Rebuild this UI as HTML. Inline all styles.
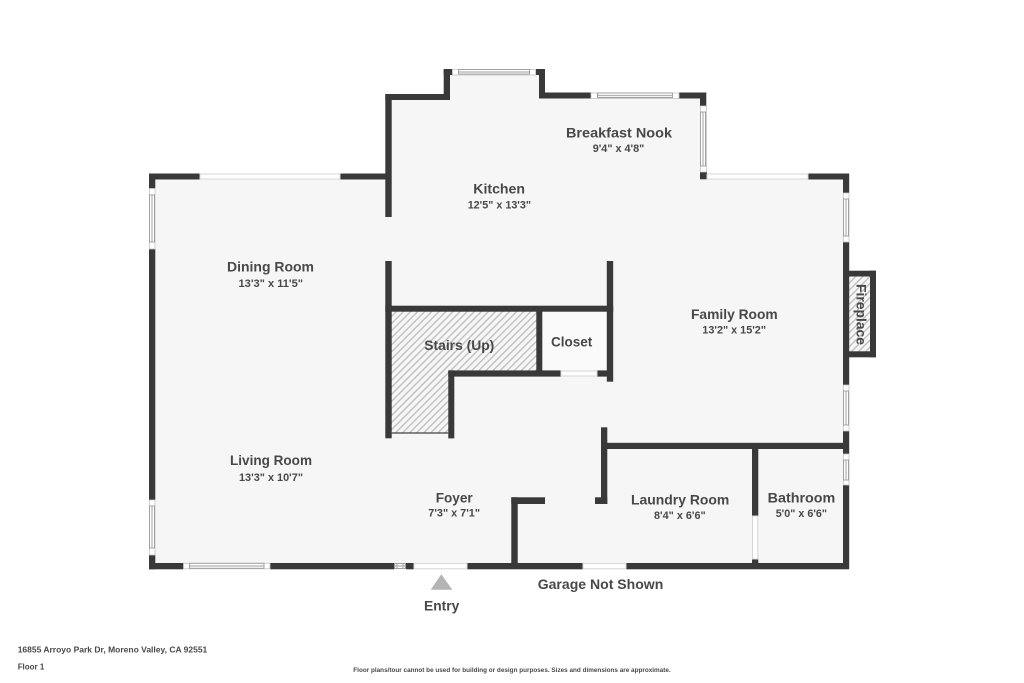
<!DOCTYPE html>
<html><head><meta charset="utf-8"><style>
html,body{margin:0;padding:0;background:#fff;width:1024px;height:683px;overflow:hidden}
svg{display:block}
text{font-family:"Liberation Sans",sans-serif;font-weight:700;fill:#484848}
.w{fill:#393939}
.d{fill:#fff;stroke:#d6d6d6;stroke-width:1}
.c{fill:#fff;stroke:#c4c4c4;stroke-width:.8}
.s{fill:#fff;stroke:#a0a0a0;stroke-width:1}
.l{stroke:#b0b0b0;stroke-width:1.2;fill:none}
</style></head><body>
<svg width="1024" height="683" viewBox="0 0 1024 683" xmlns="http://www.w3.org/2000/svg">
<defs>
<pattern id="h" width="5" height="5" patternUnits="userSpaceOnUse" patternTransform="rotate(45)">
<rect width="5" height="5" fill="#f6f6f6"/><rect width="1.3" height="5" fill="#bcbcbc"/>
</pattern>
</defs>
<polygon fill="#f6f6f6" points="152,176 388,176 388,97 447,97 447,72 542,72 542,95 703,95 703,176 846,176 846,566 152,566"/>
<rect x="542" y="311" width="65" height="60" fill="#fafafa"/>
<polygon fill="url(#h)" points="391,311 537,311 537,371 449,371 449,433 391,433"/>
<rect x="849" y="276" width="21" height="76" fill="url(#h)"/>

<!-- walls -->
<g class="w">
<rect x="149" y="173.5" width="51" height="6"/>
<rect x="340" y="173.5" width="51" height="6"/>
<rect x="149" y="173.5" width="6.3" height="15"/>
<rect x="149" y="249" width="6.3" height="251"/>
<rect x="149" y="555" width="6.3" height="14.3"/>
<rect x="149" y="563" width="34.5" height="6.3"/>
<rect x="270" y="563" width="124.5" height="6.3"/>
<rect x="406" y="563" width="8" height="6.3"/>
<rect x="467" y="563" width="116" height="6.3"/>
<rect x="626" y="563" width="223" height="6.3"/>

<rect x="385.3" y="94" width="6.4" height="123"/>
<rect x="385.3" y="94" width="64.7" height="6"/>
<rect x="443.7" y="69" width="6.3" height="31"/>
<rect x="443.7" y="69" width="8.5" height="6"/>
<rect x="536" y="69" width="9" height="6"/>
<rect x="539" y="69" width="6" height="29.5"/>
<rect x="539" y="92.5" width="52" height="6"/>
<rect x="679" y="92.5" width="27" height="6"/>
<rect x="700" y="92.5" width="6.3" height="13.5"/>
<rect x="700" y="172" width="7" height="7.3"/>

<rect x="808" y="173.5" width="41" height="6"/>
<rect x="843" y="173.5" width="6.2" height="19.5"/>
<rect x="843" y="242" width="6.2" height="143"/>
<rect x="843" y="431" width="6.2" height="23"/>
<rect x="843" y="485" width="6.2" height="84"/>

<!-- fireplace -->
<rect x="849" y="270.7" width="27" height="5.8"/>
<rect x="849" y="351.3" width="27" height="6"/>
<rect x="870" y="270.7" width="6" height="86.6"/>

<!-- centre -->
<rect x="385.3" y="261" width="6.4" height="177.3"/>
<rect x="606.8" y="261" width="6.4" height="120.7"/>
<rect x="385.3" y="305.7" width="227.9" height="6"/>
<rect x="536.3" y="311" width="6" height="60"/>
<rect x="448.3" y="370.4" width="112.7" height="6.2"/>
<rect x="597" y="370.4" width="16" height="6.2"/>
<rect x="448.3" y="370.4" width="6" height="68"/>
<rect x="391" y="432.3" width="58" height="1.4" fill="#555"/>

<!-- laundry/bath -->
<rect x="601" y="442.8" width="243" height="6.2"/>
<rect x="601" y="427.3" width="6.3" height="76.7"/>
<rect x="595" y="497.3" width="12.3" height="6.7"/>
<rect x="752" y="449" width="6.3" height="67"/>
<rect x="752" y="559" width="6.3" height="5"/>

<!-- foyer stub -->
<rect x="511.3" y="497.3" width="6.4" height="66"/>
<rect x="511.3" y="497.3" width="33.7" height="6.7"/>
</g>

<!-- plain openings -->
<rect class="d" x="200" y="174" width="140" height="5"/>
<rect class="d" x="707" y="174" width="101" height="5"/>
<rect class="d" x="414" y="563.5" width="53" height="5.3"/>
<rect class="d" x="583" y="563.5" width="43" height="5.3"/>
<rect class="d" x="561" y="371" width="36" height="5"/>
<rect class="d" x="752.5" y="516" width="5.3" height="43"/>

<!-- top bump window -->
<rect class="c" x="452.5" y="69.5" width="83" height="5.5"/>
<rect class="s" x="458.5" y="69.5" width="71" height="4.5"/><path class="l" d="M459 72H529"/>
<!-- nook window -->
<rect class="c" x="591" y="93" width="88" height="5.5"/>
<rect class="s" x="597.5" y="93" width="75" height="4.5"/><path class="l" d="M598 95.5H672"/>
<!-- nook right window -->
<rect class="c" x="700.5" y="106" width="6" height="66"/>
<rect class="s" x="700.5" y="112" width="5" height="54"/><path class="l" d="M703 112V166"/>
<!-- upper left window -->
<rect class="c" x="149.5" y="188.5" width="5.5" height="60.5"/>
<rect class="s" x="149.5" y="195" width="5" height="47"/><path class="l" d="M152 195V242"/>
<!-- lower left window -->
<rect class="c" x="149.5" y="500" width="5.5" height="55"/>
<rect class="s" x="149.5" y="506" width="5" height="42"/><path class="l" d="M152 506V548"/>
<!-- bottom left window -->
<rect class="c" x="183.5" y="563.3" width="86.5" height="5.5"/>
<rect class="s" x="189.5" y="563.3" width="74.5" height="5"/><path class="l" d="M190 566H264"/>
<!-- small bottom window -->
<rect class="s" x="394.5" y="563.5" width="11" height="5"/><path class="l" d="M395 566H405M397 564V568M403 564V568"/>
<!-- right windows -->
<rect class="c" x="843.5" y="193" width="5.5" height="49"/>
<rect class="s" x="843.5" y="199" width="5" height="37"/><path class="l" d="M846 199V236"/>
<rect class="c" x="843.5" y="385" width="5.5" height="46"/>
<rect class="s" x="843.5" y="391" width="5" height="34"/><path class="l" d="M846 391V425"/>
<rect class="c" x="843.5" y="454" width="5.5" height="31"/>
<rect class="s" x="843.5" y="460" width="5" height="20"/><path class="l" d="M846 460V480"/>

<!-- entry arrow -->
<polygon fill="#b4b4b4" points="441.3,574.3 452.3,589.7 430.7,589.7"/>

<!-- labels -->
<g font-size="14">
<text x="566" y="137.5" textLength="106" lengthAdjust="spacingAndGlyphs">Breakfast Nook</text>
<text x="473.3" y="193.5" textLength="51.7" lengthAdjust="spacingAndGlyphs">Kitchen</text>
<text x="227" y="271.3" textLength="87" lengthAdjust="spacingAndGlyphs">Dining Room</text>
<text x="691" y="319" textLength="86.7" lengthAdjust="spacingAndGlyphs">Family Room</text>
<text x="424.3" y="350" textLength="70" lengthAdjust="spacingAndGlyphs">Stairs (Up)</text>
<text x="551" y="346.5" textLength="41.3" lengthAdjust="spacingAndGlyphs">Closet</text>
<text x="230" y="465" textLength="82" lengthAdjust="spacingAndGlyphs">Living Room</text>
<text x="435.7" y="502.3" textLength="37" lengthAdjust="spacingAndGlyphs">Foyer</text>
<text x="631" y="504.3" textLength="98.3" lengthAdjust="spacingAndGlyphs">Laundry Room</text>
<text x="767.7" y="502.3" textLength="67.6" lengthAdjust="spacingAndGlyphs">Bathroom</text>
<text x="537.7" y="589" textLength="125.6" lengthAdjust="spacingAndGlyphs">Garage Not Shown</text>
<text x="424" y="610.7" textLength="35.3" lengthAdjust="spacingAndGlyphs">Entry</text>
<text transform="translate(856.5,284) rotate(90)" textLength="61" lengthAdjust="spacingAndGlyphs">Fireplace</text>
</g>
<g font-size="11">
<text x="592.7" y="152.2" textLength="51.6" lengthAdjust="spacingAndGlyphs">9'4" x 4'8"</text>
<text x="467.7" y="208.5" textLength="63.3" lengthAdjust="spacingAndGlyphs">12'5" x 13'3"</text>
<text x="238.5" y="286.8" textLength="64.5" lengthAdjust="spacingAndGlyphs">13'3" x 11'5"</text>
<text x="702.3" y="333.3" textLength="63.7" lengthAdjust="spacingAndGlyphs">13'2" x 15'2"</text>
<text x="239" y="480.8" textLength="64" lengthAdjust="spacingAndGlyphs">13'3" x 10'7"</text>
<text x="428.3" y="516.7" textLength="51.7" lengthAdjust="spacingAndGlyphs">7'3" x 7'1"</text>
<text x="654" y="519" textLength="51.7" lengthAdjust="spacingAndGlyphs">8'4" x 6'6"</text>
<text x="775.7" y="517" textLength="51.3" lengthAdjust="spacingAndGlyphs">5'0" x 6'6"</text>
</g>
<g font-size="8.5" style="fill:#555">
<text x="17.7" y="652.3" textLength="189.6" lengthAdjust="spacingAndGlyphs">16855 Arroyo Park Dr, Moreno Valley, CA 92551</text>
<text x="17.7" y="669.7" textLength="26.6" lengthAdjust="spacingAndGlyphs">Floor 1</text>
</g>
<text x="353.3" y="672" font-size="6.5" textLength="317.4" lengthAdjust="spacingAndGlyphs">Floor plans/tour cannot be used for building or design purposes. Sizes and dimensions are approximate.</text>
</svg>
</body></html>
